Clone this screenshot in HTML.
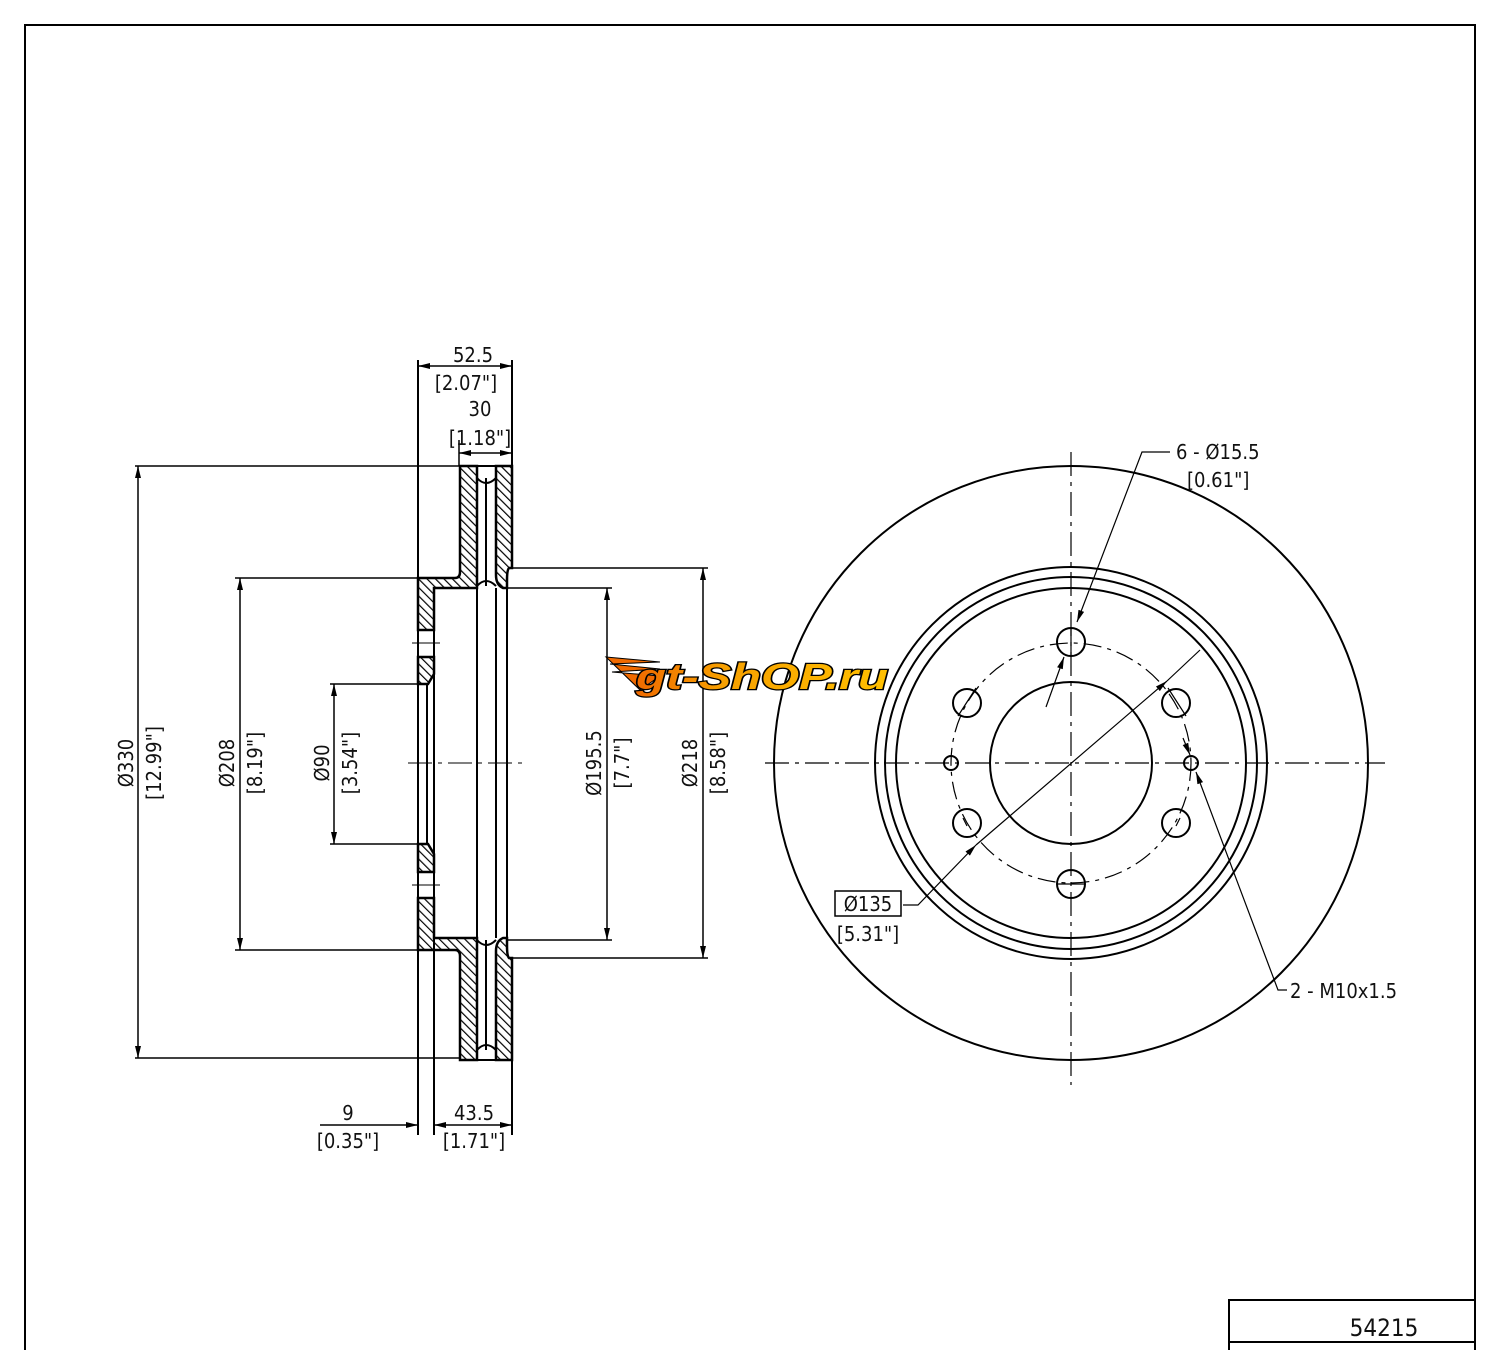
<!DOCTYPE html>
<html><head><meta charset="utf-8">
<style>
html,body{margin:0;padding:0;background:#fff;}
svg{display:block;}
text{font-family:"DejaVu Sans Condensed","Liberation Sans Narrow","Liberation Sans",sans-serif;fill:#111;}
</style></head>
<body>
<svg width="1500" height="1350" viewBox="0 0 1500 1350" xmlns="http://www.w3.org/2000/svg">
<defs>
<pattern id="h" patternUnits="userSpaceOnUse" width="6" height="6" patternTransform="rotate(-45)">
<rect width="6" height="6" fill="#fff"/><line x1="0" y1="0" x2="0" y2="6" stroke="#000" stroke-width="2.4"/>
</pattern>
<linearGradient id="lg" x1="0" y1="0" x2="1" y2="0">
<stop offset="0" stop-color="#f06a00"/><stop offset="0.35" stop-color="#f7a000"/><stop offset="1" stop-color="#ffc000"/>
</linearGradient>
<marker id="a" markerWidth="12" markerHeight="8" refX="12" refY="4" orient="auto" markerUnits="userSpaceOnUse">
<path d="M0,1 L12,4 L0,7 Z" fill="#000"/></marker>
<marker id="b" markerWidth="12" markerHeight="8" refX="0" refY="4" orient="auto" markerUnits="userSpaceOnUse">
<path d="M12,1 L0,4 L12,7 Z" fill="#000"/></marker>
</defs>
<rect width="1500" height="1350" fill="#fff"/>
<path d="M25,1350 V25 H1475 V1350" fill="none" stroke="#000" stroke-width="2"/>
<path d="M1229,1350 V1300 H1475 M1229,1342 H1475" fill="none" stroke="#000" stroke-width="2"/>
<text x="1384" y="1336" font-size="24" text-anchor="middle">54215</text>

<g stroke="#000" fill="none">
<g fill="url(#h)" stroke-width="2.5">
<path d="M460,466 H477 V588 H434 V630 H418 V578 H455 Q460,578 460,572 Z"/>
<path d="M418,657 H434 V674 L428,684 H418 Z"/>
<path d="M496,466 H512 V568 H509 Q507,570 507,580 V588 L503,588 Q496,585 496,575 Z"/>
<path d="M460,1060 H477 V938 H434 V898 H418 V950 H455 Q460,950 460,956 Z"/>
<path d="M418,872 H434 V854 L428,844 H418 Z"/>
<path d="M496,1060 H512 V958 H509 Q507,956 507,946 V938 L503,938 Q496,941 496,951 Z"/>
</g>
<g stroke-width="2">
<path d="M477,478 Q486,488 496,478"/>
<path d="M477,586 Q486,576 496,586"/>
<path d="M477,940 Q486,950 496,940"/>
<path d="M477,1050 Q486,1040 496,1050"/>
<line x1="477" y1="466" x2="496" y2="466"/>
<line x1="477" y1="1060" x2="496" y2="1060"/>
<line x1="486" y1="478" x2="486" y2="586"/>
<line x1="486" y1="940" x2="486" y2="1050"/>
<line x1="418" y1="360" x2="418" y2="1135"/>
<line x1="434" y1="588" x2="434" y2="1135"/>
<line x1="427" y1="684" x2="427" y2="844"/>
<line x1="477" y1="588" x2="477" y2="938"/>
<line x1="496" y1="588" x2="496" y2="938"/>
<line x1="507" y1="588" x2="507" y2="938"/>
<line x1="512" y1="360" x2="512" y2="466"/>
<line x1="512" y1="1060" x2="512" y2="1135"/>
<rect x="418" y="630" width="16" height="27"/>
<rect x="418" y="872" width="16" height="26"/>
</g>
<g stroke-width="1">
<line x1="412" y1="643" x2="440" y2="643"/>
<line x1="412" y1="885" x2="440" y2="885"/>
<line x1="408" y1="763" x2="525" y2="763" stroke-dasharray="24,6,4,6"/>
</g>
<g stroke-width="1.5">
<line x1="135" y1="466" x2="460" y2="466"/>
<line x1="135" y1="1058" x2="460" y2="1058"/>
<line x1="235" y1="578" x2="418" y2="578"/>
<line x1="235" y1="950" x2="418" y2="950"/>
<line x1="330" y1="684" x2="418" y2="684"/>
<line x1="330" y1="844" x2="418" y2="844"/>
<line x1="512" y1="568" x2="708" y2="568"/>
<line x1="512" y1="958" x2="708" y2="958"/>
<line x1="507" y1="588" x2="612" y2="588"/>
<line x1="507" y1="940" x2="612" y2="940"/>
<line x1="459" y1="440" x2="459" y2="466"/>
<line x1="138" y1="466" x2="138" y2="1058" marker-start="url(#b)" marker-end="url(#a)"/>
<line x1="240" y1="578" x2="240" y2="950" marker-start="url(#b)" marker-end="url(#a)"/>
<line x1="334" y1="684" x2="334" y2="844" marker-start="url(#b)" marker-end="url(#a)"/>
<line x1="607" y1="588" x2="607" y2="940" marker-start="url(#b)" marker-end="url(#a)"/>
<line x1="703" y1="568" x2="703" y2="958" marker-start="url(#b)" marker-end="url(#a)"/>
<line x1="418" y1="366" x2="512" y2="366" marker-start="url(#b)" marker-end="url(#a)"/>
<line x1="459" y1="453" x2="512" y2="453" marker-start="url(#b)" marker-end="url(#a)"/>
<line x1="320" y1="1125" x2="418" y2="1125" marker-end="url(#a)"/>
<line x1="434" y1="1125" x2="512" y2="1125" marker-start="url(#b)" marker-end="url(#a)"/>
</g>
</g>
<g font-size="20">
<text x="473" y="362" text-anchor="middle">52.5</text>
<text x="466" y="390" text-anchor="middle">[2.07"]</text>
<text x="480" y="416" text-anchor="middle">30</text>
<text x="480" y="445" text-anchor="middle">[1.18"]</text>
<text x="348" y="1120" text-anchor="middle">9</text>
<text x="348" y="1148" text-anchor="middle">[0.35"]</text>
<text x="474" y="1120" text-anchor="middle">43.5</text>
<text x="474" y="1148" text-anchor="middle">[1.71"]</text>
<text transform="translate(133,763) rotate(-90)" text-anchor="middle">Ø330</text>
<text transform="translate(161,763) rotate(-90)" text-anchor="middle">[12.99"]</text>
<text transform="translate(234,763) rotate(-90)" text-anchor="middle">Ø208</text>
<text transform="translate(262,763) rotate(-90)" text-anchor="middle">[8.19"]</text>
<text transform="translate(329,763) rotate(-90)" text-anchor="middle">Ø90</text>
<text transform="translate(357,763) rotate(-90)" text-anchor="middle">[3.54"]</text>
<text transform="translate(601,763) rotate(-90)" text-anchor="middle">Ø195.5</text>
<text transform="translate(629,763) rotate(-90)" text-anchor="middle">[7.7"]</text>
<text transform="translate(697,763) rotate(-90)" text-anchor="middle">Ø218</text>
<text transform="translate(725,763) rotate(-90)" text-anchor="middle">[8.58"]</text>
</g>

<g stroke="#000" fill="none">
<g stroke-width="2">
<circle cx="1071" cy="763" r="297"/>
<circle cx="1071" cy="763" r="196"/>
<circle cx="1071" cy="763" r="186"/>
<circle cx="1071" cy="763" r="175"/>
<circle cx="1071" cy="763" r="81"/>
<circle cx="1071" cy="642" r="14"/>
<circle cx="1071" cy="884" r="14"/>
<circle cx="967" cy="703" r="14"/>
<circle cx="1176" cy="703" r="14"/>
<circle cx="967" cy="823" r="14"/>
<circle cx="1176" cy="823" r="14"/>
<circle cx="951" cy="763" r="7"/>
<circle cx="1191" cy="763" r="7"/>
</g>
<g stroke-width="1.2">
<circle cx="1071" cy="763" r="120" stroke-dasharray="18,6,4,6"/>
<line x1="765" y1="763" x2="1385" y2="763" stroke-dasharray="24,6,4,6"/>
<line x1="1071" y1="452" x2="1071" y2="1085" stroke-dasharray="24,6,4,6"/>
<line x1="1057" y1="884" x2="1085" y2="884"/>
<line x1="1071" y1="628" x2="1071" y2="656"/>
<polyline points="1170,452 1142,452 1077,622" marker-end="url(#a)"/>
<line x1="1046" y1="707" x2="1064" y2="657" marker-end="url(#a)"/>
<line x1="976" y1="845" x2="1167" y2="681" marker-end="url(#a)"/>
<line x1="1167" y1="681" x2="1200" y2="650"/>
<polyline points="903,905 918,905 976,845" marker-end="url(#a)"/>
<line x1="1183" y1="738" x2="1190" y2="755" marker-end="url(#a)"/>
<polyline points="1287,990 1278,990 1196,772" marker-end="url(#a)"/>
<line x1="958" y1="716" x2="976" y2="688"/>
<line x1="1168" y1="688" x2="1186" y2="716"/>
<line x1="963" y1="818" x2="967" y2="826"/>
<line x1="1180" y1="818" x2="1176" y2="826"/>
<rect x="835" y="891" width="66" height="25" stroke-width="1.5"/>
</g>
</g>
<g font-size="20">
<text x="1176" y="459">6 - Ø15.5</text>
<text x="1187" y="487">[0.61"]</text>
<text x="868" y="911" text-anchor="middle">Ø135</text>
<text x="868" y="941" text-anchor="middle">[5.31"]</text>
<text x="1290" y="998">2 - M10x1.5</text>
</g>

<g>
<path d="M606,657 L660,662 L610,664 L660,669 L612,672 L660,676 L640,690 Z" fill="#f06a00" stroke="#000" stroke-width="1"/>
<text x="636" y="689" font-size="36" font-weight="bold" font-style="italic" textLength="252" lengthAdjust="spacingAndGlyphs" stroke="#000" stroke-width="2.5" paint-order="stroke" style="fill:url(#lg);font-family:'Liberation Sans',sans-serif">gt-ShOP.ru</text>
</g>
</svg>
</body></html>
